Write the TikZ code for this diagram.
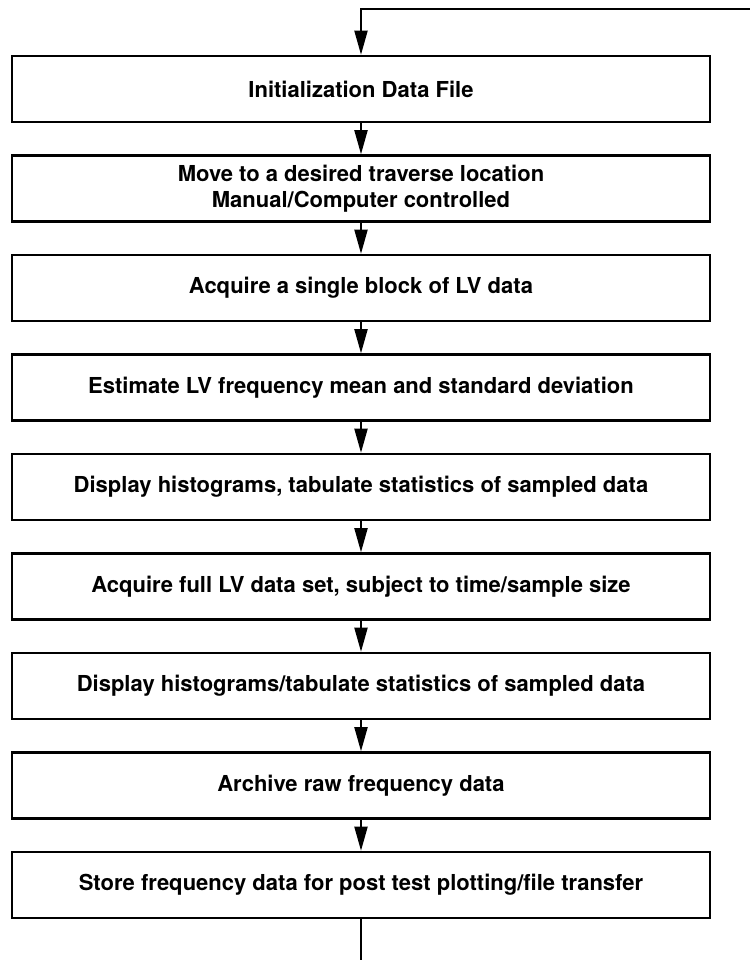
\documentclass[tikz,border=0pt]{standalone}
\usepackage{fontspec}
\setmainfont{TeX Gyre Heros}
\usepackage{tikz}
\usetikzlibrary{arrows.meta}
\tikzstyle{stepbox} = [draw=black, line width=1.3pt, minimum width=349pt, minimum height=33pt, inner sep=0pt, align=center, font={\fontsize{11}{13}\selectfont\bfseries}]
\tikzstyle{flow} = [line width=1pt, -{Triangle[length=12pt,width=6.5pt]}]

\begin{document}
\begin{tikzpicture}[x=1pt,y=1pt]
  \useasboundingbox (0,0) rectangle (375,-480);
  \node[stepbox](0) at (180.5,-44.5){Initialization Data File};
  \node[stepbox](1) at (180.5,-94.25){Move to a desired traverse location\\Manual/Computer controlled};
  \node[stepbox](2) at (180.5,-144){Acquire a single block of LV data};
  \node[stepbox](3) at (180.5,-193.75){Estimate LV frequency mean and standard deviation};
  \node[stepbox](4) at (180.5,-243.5){Display histograms, tabulate statistics of sampled data};
  \node[stepbox](5) at (180.5,-293.25){Acquire full LV data set, subject to time/sample size};
  \node[stepbox](6) at (180.5,-343){Display histograms/tabulate statistics of sampled data};
  \node[stepbox](7) at (180.5,-392.75){Archive raw frequency data};
  \node[stepbox](8) at (180.5,-442.5){Store frequency data for post test plotting/file transfer};
  \coordinate (in) at (376,-4.5);
  \coordinate (out) at (180.5,-481);
  \draw[flow](in) -| (0.north);
  \draw[flow](0)--(1);
  \draw[flow](1)--(2);
  \draw[flow](2)--(3);
  \draw[flow](3)--(4);
  \draw[flow](4)--(5);
  \draw[flow](5)--(6);
  \draw[flow](6)--(7);
  \draw[flow](7)--(8);
  \draw[line width=1pt](8)--(out);
\end{tikzpicture}
\end{document}
